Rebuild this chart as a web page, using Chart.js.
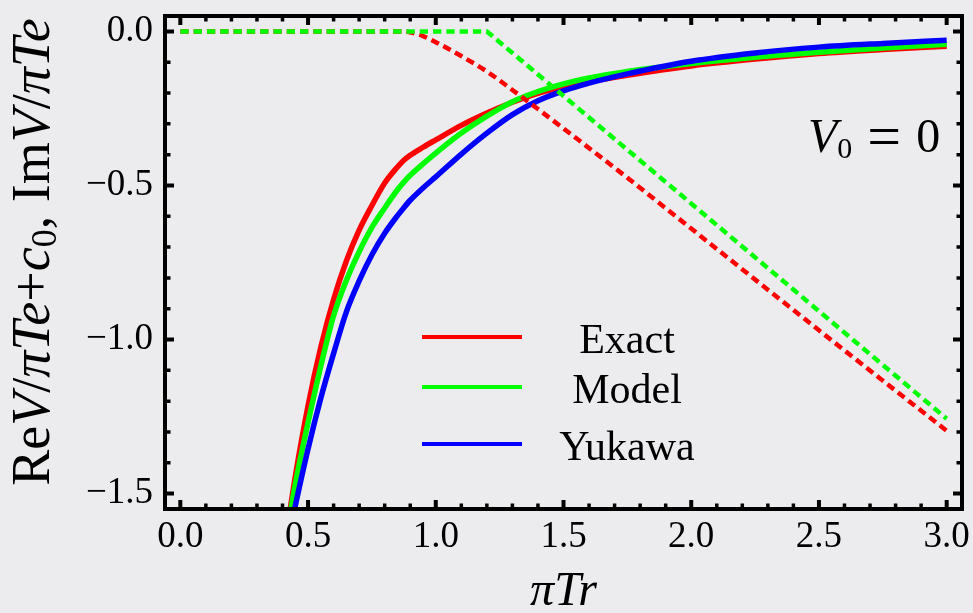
<!DOCTYPE html>
<html>
<head>
<meta charset="utf-8">
<script src="https://cdn.jsdelivr.net/npm/chart.js@4.4.0/dist/chart.umd.min.js"></script>
<style>
  html, body { margin: 0; padding: 0; background: #ececee; }
  #wrap { width: 973px; height: 613px; }
</style>
</head>
<body>
<div id="wrap"><canvas id="chart" width="973" height="613"></canvas></div>
<script>
// 横軸 (πTr) の値
const xSolid = [0.40, 0.45, 0.50, 0.55, 0.60, 0.65, 0.70, 0.75, 0.80, 0.85, 0.875, 0.90, 0.95, 1.0,
                1.1, 1.2, 1.3, 1.4, 1.5, 1.6, 1.75, 2.0, 2.25, 2.5, 2.75, 3.0];

// 実部 ReV/πTe + c0
const reExact  = [-1.715, -1.445, -1.215, -1.025, -0.87, -0.745, -0.645, -0.565, -0.492, -0.44, -0.418, -0.402, -0.376, -0.352,
                  -0.305, -0.265, -0.23, -0.201, -0.18, -0.163, -0.142, -0.112, -0.09, -0.072, -0.059, -0.048];
const reModel  = [-1.72, -1.47, -1.27, -1.086, -0.923, -0.808, -0.715, -0.636, -0.573, -0.514, -0.489, -0.467, -0.43, -0.395,
                  -0.33, -0.275, -0.228, -0.195, -0.17, -0.151, -0.13, -0.104, -0.084, -0.068, -0.054, -0.042];
const reYukawa = [-1.74, -1.54, -1.355, -1.19, -1.045, -0.91, -0.81, -0.725, -0.655, -0.598, -0.572, -0.548, -0.508, -0.472,
                  -0.398, -0.33, -0.27, -0.225, -0.193, -0.168, -0.138, -0.097, -0.07, -0.051, -0.039, -0.029];

// 虚部 ImV/πTe (点線)
const xImExact = [0, 0.88, 0.9, 0.95, 1.0, 1.1, 1.2, 1.3, 1.4, 1.5, 1.75, 2.0, 2.5, 3.0];
const imExact  = [0, 0, -0.003, -0.015, -0.035, -0.08, -0.13, -0.19, -0.252, -0.315, -0.475, -0.64, -0.97, -1.296];
const xImModel = [0, 1.2, 3.0];
const imModel  = [0, 0, -1.257];

// 目盛り
const xTickVals = [0, 0.5, 1.0, 1.5, 2.0, 2.5, 3.0];
const yTickVals = [0, -0.5, -1.0, -1.5];

const legendLabels = ['Exact', 'Model', 'Yukawa'];
const seriesColors = ['#ff0000', '#00ff00', '#0000ff'];

const serif = '"Liberation Serif", "Times New Roman", serif';

function toPoints(xs, ys) {
    return xs.map((x, i) => ({ x: x, y: ys[i] }));
}

function fmt(v) {
    return (v < 0 ? '\u2212' : '') + Math.abs(v).toFixed(1);
}

// 文字列をフォント違いで並べて描く
function drawRuns(ctx, runs, x, y, align) {
    let total = 0;
    runs.forEach(r => { ctx.font = r.font; r.w = ctx.measureText(r.t).width; total += r.w; });
    let cx = align === 'center' ? x - total / 2 : x;
    runs.forEach(r => {
        ctx.font = r.font;
        ctx.fillText(r.t, cx, y + (r.dy || 0));
        cx += r.w;
    });
}

// 枠と内向きの目盛り
const framePlugin = {
    id: 'frame',
    afterDatasetsDraw(chart) {
        const ctx = chart.ctx;
        const a = chart.chartArea;
        const xs = chart.scales.x, ys = chart.scales.y;
        ctx.save();
        ctx.strokeStyle = '#000';
        ctx.lineCap = 'butt';
        const step = 0.1;
        for (let k = Math.ceil(xs.min / step - 1e-9); k <= Math.floor(xs.max / step + 1e-9); k++) {
            const major = k % 5 === 0;
            const len = major ? 9 : 5.5;
            const p = xs.getPixelForValue(k * step);
            ctx.lineWidth = major ? 4 : 3.5;
            ctx.beginPath();
            ctx.moveTo(p, a.bottom); ctx.lineTo(p, a.bottom - len);
            ctx.moveTo(p, a.top); ctx.lineTo(p, a.top + len);
            ctx.stroke();
        }
        for (let k = Math.ceil(ys.min / step - 1e-9); k <= Math.floor(ys.max / step + 1e-9); k++) {
            const major = k % 5 === 0;
            const len = major ? 9 : 5.5;
            const p = ys.getPixelForValue(k * step);
            ctx.lineWidth = major ? 4 : 3.5;
            ctx.beginPath();
            ctx.moveTo(a.left, p); ctx.lineTo(a.left + len, p);
            ctx.moveTo(a.right, p); ctx.lineTo(a.right - len, p);
            ctx.stroke();
        }
        ctx.lineWidth = 4;
        ctx.strokeRect(a.left, a.top, a.right - a.left, a.bottom - a.top);
        ctx.restore();
    }
};

// 凡例・縦軸ラベル・V0 = 0
const labelPlugin = {
    id: 'labels',
    afterDraw(chart) {
        const ctx = chart.ctx;
        ctx.save();
        ctx.fillStyle = '#000';
        ctx.textBaseline = 'alphabetic';

        // 凡例
        const rows = [337, 387, 444];
        chart.data.datasets.filter(d => d.inLegend).forEach((d, i) => {
            ctx.strokeStyle = d.borderColor;
            ctx.lineWidth = 4;
            ctx.beginPath();
            ctx.moveTo(422, rows[i]); ctx.lineTo(522, rows[i]);
            ctx.stroke();
            ctx.font = '42px ' + serif;
            ctx.textAlign = 'center';
            ctx.fillText(d.label, 627, rows[i] + 15.5);
        });
        ctx.textAlign = 'left';

        // V0 = 0
        const bigI = 'italic 48px ' + serif, small = '30px ' + serif, eq = '60px ' + serif;
        drawRuns(ctx, [
            { t: 'V', font: bigI },
            { t: '0', font: small, dy: 6 },
            { t: ' = ', font: eq, dy: 4 },
            { t: '0', font: '48px ' + serif }
        ], 808, 152, 'left');

        // 縦軸ラベル
        ctx.translate(49, 252);
        ctx.rotate(-Math.PI / 2);
        const n = '54px ' + serif, it = 'italic 54px ' + serif, sub = '36px ' + serif;
        drawRuns(ctx, [
            { t: 'Re', font: n }, { t: 'V', font: it }, { t: '/', font: n },
            { t: '\u03c0Te', font: it }, { t: '+', font: n }, { t: 'c', font: it },
            { t: '0', font: sub, dy: 7 }, { t: ', Im', font: n }, { t: 'V', font: it },
            { t: '/', font: n }, { t: '\u03c0Te', font: it }
        ], 0, 0, 'center');
        ctx.restore();
    }
};

const datasets = [
    { label: 'Model (Im)', data: toPoints(xImModel, imModel), borderColor: seriesColors[1], borderWidth: 4.5,
      borderDash: [8.3, 5], order: 0 },
    { label: 'Exact (Im)', data: toPoints(xImExact, imExact), borderColor: seriesColors[0], borderWidth: 4.5,
      borderDash: [8.3, 5], cubicInterpolationMode: 'monotone', order: 1 },
    { label: legendLabels[0], data: toPoints(xSolid, reExact), borderColor: seriesColors[0], borderWidth: 5.5,
      cubicInterpolationMode: 'monotone', inLegend: true, order: 4 },
    { label: legendLabels[1], data: toPoints(xSolid, reModel), borderColor: seriesColors[1], borderWidth: 5.5,
      cubicInterpolationMode: 'monotone', inLegend: true, order: 3 },
    { label: legendLabels[2], data: toPoints(xSolid, reYukawa), borderColor: seriesColors[2], borderWidth: 5.5,
      cubicInterpolationMode: 'monotone', inLegend: true, order: 2 }
];

new Chart(document.getElementById('chart'), {
    type: 'line',
    data: { datasets: datasets },
    options: {
        responsive: false,
        animation: false,
        clip: 0,
        elements: { point: { radius: 0 }, line: { borderCapStyle: 'butt' } },
        layout: { padding: { top: 16, right: 11, left: 0, bottom: 0 } },
        plugins: { legend: { display: false }, tooltip: { enabled: false } },
        scales: {
            x: {
                type: 'linear',
                min: -0.06,
                max: 3.06,
                afterBuildTicks: s => { s.ticks = xTickVals.map(v => ({ value: v })); },
                afterFit: s => { s.height = 104; s.paddingLeft = 0; s.paddingRight = 0; },
                grid: { display: false, drawTicks: false },
                border: { display: false },
                ticks: { padding: 6, color: '#000', font: { family: serif, size: 37 }, callback: v => fmt(v), maxRotation: 0 },
                title: { display: true, text: '\u03c0Tr', color: '#000', font: { family: serif, size: 48, style: 'italic' }, padding: { top: 4, bottom: -8 } }
            },
            y: {
                type: 'linear',
                min: -1.55,
                max: 0.05,
                afterBuildTicks: s => { s.ticks = yTickVals.map(v => ({ value: v })); },
                afterFit: s => { s.width = 165; s.paddingTop = 0; s.paddingBottom = 0; },
                grid: { display: false, drawTicks: false },
                border: { display: false },
                ticks: { padding: 12, color: '#000', font: { family: serif, size: 37 }, callback: v => fmt(v) }
            }
        }
    },
    plugins: [framePlugin, labelPlugin]
});
</script>
</body>
</html>
